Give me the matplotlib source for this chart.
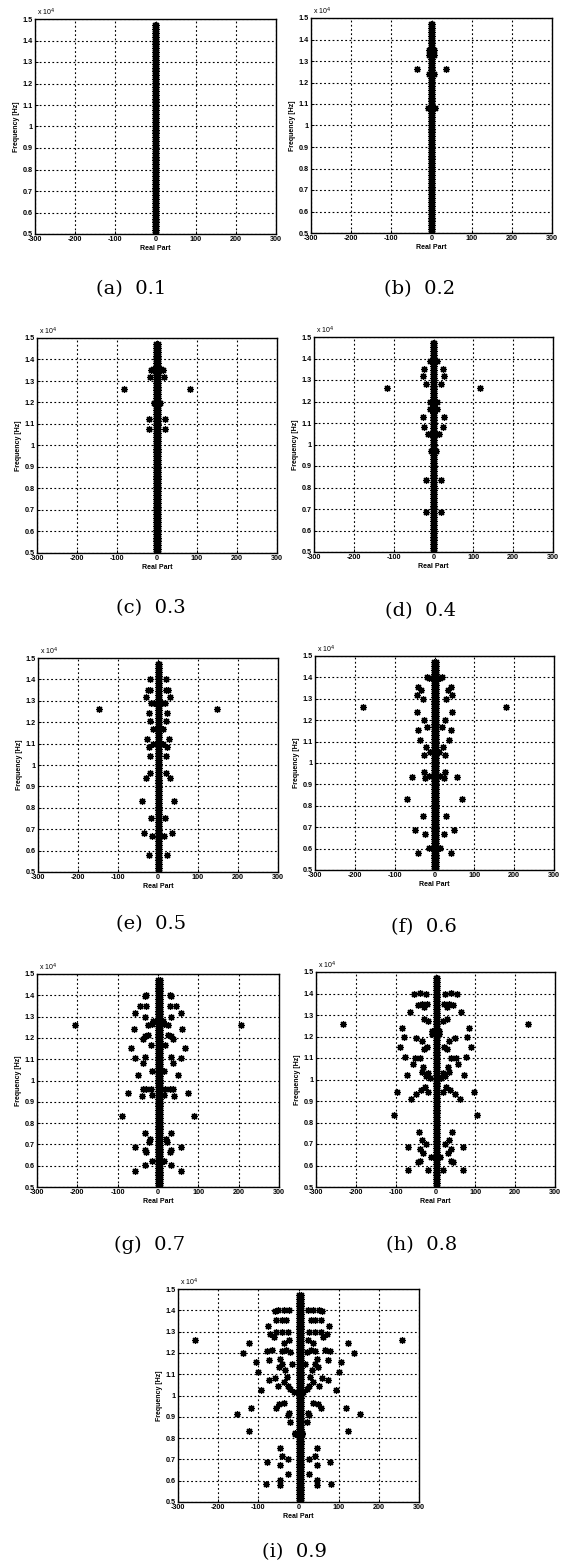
import matplotlib
matplotlib.use("Agg")
import matplotlib.pyplot as plt

# ---------------- data ----------------
panel_labels = ["(a)", "(b)", "(c)", "(d)", "(e)", "(f)", "(g)", "(h)", "(i)"]
panel_values = ["0.1", "0.2", "0.3", "0.4", "0.5", "0.6", "0.7", "0.8", "0.9"]

x_ticks = [-300, -200, -100, 0, 100, 200, 300]
x_tick_labels = ["-300", "-200", "-100", "0", "100", "200", "300"]
y_ticks = [5000, 6000, 7000, 8000, 9000, 10000, 11000, 12000, 13000, 14000, 15000]
y_tick_labels = ["0.5", "0.6", "0.7", "0.8", "0.9", "1", "1.1", "1.2", "1.3", "1.4", "1.5"]

# dense column of eigenvalues lying almost on the imaginary axis (Hz)
column_freq = [5000, 5180, 5360, 5540, 5720, 5900, 6080, 6260, 6440, 6620,
               6800, 6980, 7160, 7340, 7520, 7700, 7880, 8060, 8240, 8420,
               8600, 8780, 8960, 9140, 9320, 9500, 9680, 9860, 10040, 10220,
               10400, 10580, 10760, 10940, 11120, 11300, 11480, 11660, 11840, 12020,
               12200, 12380, 12560, 12740, 12920, 13100, 13280, 13460, 13640, 13820,
               14000, 14180, 14360, 14520, 14700]

# real-part offsets of the column for each panel
column_real = {
    "a": [-2.0, 2.0], "b": [-2.0, 2.0], "c": [-2.0, 2.0],
    "d": [-2.0, 2.0], "e": [-1.0, 3.0], "f": [-1.0, 3.0],
    "g": [1.0, 5.0], "h": [0.0, 4.0], "i": [1.0, 5.0],
}

# off-axis eigenvalues (right half, real part > 0); left half is the mirror image
real_a = []
freq_a = []

real_b = [37, 9, 6, 5, 7]
freq_b = [12620, 10820, 13500, 12400, 13300]

real_c = [82, 21, 20, 15, 10, 18, 8, 6]
freq_c = [12630, 11250, 10780, 13530, 13560, 13170, 11980, 13450]

real_d = [117, 23, 26, 20, 27, 24, 15, 10, 19, 20, 9, 8, 8, 7]
freq_d = [12630, 13500, 13200, 12820, 11270, 10800, 10470, 10500, 8340, 6880,
          12000, 11650, 13900, 9700]

real_e = [148, 20, 24, 20, 30, 18, 23, 20, 12, 28, 22, 12, 20, 19, 31, 40, 17,
          34, 16, 23, 10]
freq_e = [12620, 14020, 13500, 13520, 13200, 12900, 12450, 12050, 11700, 11200,
          10830, 11000, 10400, 9620, 9390, 8330, 7530, 6830, 6670, 5780, 12900]

real_f = [179, 15, 20, 41, 33, 45, 30, 43, 27, 20, 41, 37, 22, 27, 12, 26, 56,
          25, 15, 70, 28, 48, 24, 14, 42]
freq_f = [12620, 13980, 14000, 13550, 13420, 13180, 13000, 12400, 12000, 11680,
          11540, 11080, 10770, 10370, 10500, 9580, 9360, 9300, 9400, 8300, 7520,
          6850, 6700, 6020, 5800]

real_g = [205, 30, 33, 30, 45, 56, 33, 12, 16, 25, 59, 25, 31, 36, 18, 68, 56,
          33, 37, 16, 50, 18, 29, 37, 75, 40, 16, 90, 33, 19, 22, 58, 31, 29,
          14, 31, 57]
freq_g = [12600, 14000, 13950, 13520, 13500, 13160, 12980, 12800, 12650, 12620,
          12430, 12140, 12100, 11960, 11670, 11530, 11060, 11100, 10800, 10450,
          10260, 9600, 9600, 9580, 9420, 9280, 9300, 8320, 7520, 7270, 7120,
          6860, 6720, 6650, 6220, 6050, 5760]

real_h = [233, 25, 55, 40, 22, 35, 45, 30, 63, 30, 20, 84, 80, 48, 35, 90, 30,
          22, 77, 40, 52, 57, 71, 35, 25, 15, 97, 62, 50, 37, 26, 18, 105, 42,
          35, 23, 68, 40, 31, 38, 44, 12, 70, 18, 8, 8, 32, 20]
freq_h = [12600, 14000, 14000, 14020, 13500, 13520, 13480, 13350, 13150, 12800,
          12700, 12380, 12000, 11920, 11800, 11510, 11400, 11500, 11050, 11020,
          10980, 10720, 10220, 10350, 10150, 10050, 9400, 9100, 9340, 9530,
          9650, 9400, 8350, 7560, 7200, 7000, 6870, 6780, 6570, 6200, 6150,
          6400, 5800, 5800, 12100, 12250, 10600, 10300]

real_i = [258, 123, 138, 105, 100, 94, 118, 154, 123, 79, 80, 46, 42, 27, 45,
          26, 47, 46, 24, 37, 50, 58, 30, 42, 56, 75, 72, 25, 40, 55, 62, 24,
          35, 66, 78, 30, 42, 20, 73, 48, 33, 16, 45, 40, 74, 58, 29, 52, 35,
          25, 12, 20, 37, 48, 57, 24, 25, 22, 8, 9]
freq_i = [12620, 12470, 12000, 11570, 11120, 10270, 9430, 9130, 8350, 6860,
          5850, 7550, 7170, 7000, 6720, 6330, 6030, 5800, 14020, 14000, 14020,
          13980, 13550, 13550, 13530, 13240, 12900, 13000, 13000, 13000, 12760,
          12600, 12450, 12130, 12080, 12120, 12100, 12050, 11670, 11330, 11200,
          11500, 11700, 11500, 10730, 10800, 10880, 10430, 10650, 10450, 10180,
          10320, 9630, 9600, 9400, 9200, 9100, 8770, 8250, 8180]

panel_data = [
    ("a", real_a, freq_a), ("b", real_b, freq_b), ("c", real_c, freq_c),
    ("d", real_d, freq_d), ("e", real_e, freq_e), ("f", real_f, freq_f),
    ("g", real_g, freq_g), ("h", real_h, freq_h), ("i", real_i, freq_i),
]

# ---------------- layout (pixel boxes: left, right, top, bottom) ----------------
W, H = 568, 1565
axes_px = [
    (35, 276, 19, 234), (311, 552, 18, 233),
    (37, 277, 338, 553), (314, 553, 337, 552),
    (38, 278, 658, 872), (315, 554, 656, 870),
    (37, 279, 974, 1187), (316, 555, 972, 1187),
    (178, 419, 1289, 1502),
]
caption_px = [
    (131, 289), (420, 289),
    (151, 608), (421, 611),
    (151, 924), (424, 927),
    (150, 1245), (422, 1245),
    (295, 1552),
]

fig = plt.figure(figsize=(W / 100, H / 100), dpi=100)
fig.patch.set_facecolor("white")

tick_font = dict(family="Liberation Sans", weight="bold", size=5.2)
marker = (8, 2, 0)
ms, mew = 5.0, 0.9

for k, (key, rr, ff) in enumerate(panel_data):
    l, r, t, b = axes_px[k]
    ax = fig.add_axes([l / W, 1 - b / H, (r - l) / W, (b - t) / H])
    ax.set_xlim(-300, 300)
    ax.set_ylim(5000, 15000)
    ax.set_xticks(x_ticks)
    ax.set_xticklabels(x_tick_labels, fontdict=tick_font)
    ax.set_yticks(y_ticks)
    ax.set_yticklabels(y_tick_labels, fontdict=tick_font)
    ax.tick_params(direction="in", length=2.5, width=0.7, pad=1.5, colors="k")
    ax.grid(True, color="k", linestyle=(0, (1.6, 2.2)), linewidth=0.8)
    for sp in ax.spines.values():
        sp.set_linewidth(1.0)
        sp.set_color("k")

    # column along the imaginary axis (densely packed markers form a solid band)
    for cx in column_real[key]:
        ax.plot([cx] * (len(column_freq) - 1), column_freq[:-1], color="k",
                linewidth=3.6, solid_capstyle="butt")
        ax.plot([cx] * len(column_freq), column_freq, linestyle="none",
                marker=marker, markersize=ms, markeredgewidth=mew, color="k")
    # off-axis eigenvalues and their mirror images
    if rr:
        ax.plot(rr, ff, linestyle="none", marker=marker, markersize=ms,
                markeredgewidth=mew, color="k")
        ax.plot([-v for v in rr], ff, linestyle="none", marker=marker,
                markersize=ms, markeredgewidth=mew, color="k")

    ax.set_xlabel("Real Part", fontdict=dict(family="Liberation Sans",
                                             weight="bold", size=5.0),
                  labelpad=1.5)
    ax.set_ylabel("Frequency [Hz]", fontdict=dict(family="Liberation Sans",
                                                  weight="bold", size=5.0),
                  labelpad=2)
    ax.text(0.01, 1.005, r"x 10$^4$", transform=ax.transAxes,
            fontsize=5.0, family="Liberation Sans", ha="left", va="bottom")

    cx_px, cy_px = caption_px[k]
    fig.text(cx_px / W, 1 - cy_px / H,
             panel_labels[k] + "  " + panel_values[k],
             fontsize=14, family="DejaVu Serif", ha="center", va="center")

fig.savefig("out.png", dpi=100, facecolor="white")
